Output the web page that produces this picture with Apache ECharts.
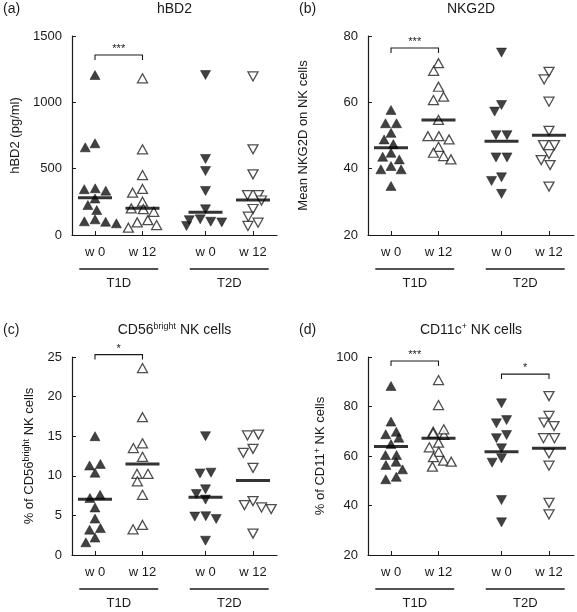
<!DOCTYPE html>
<html><head><meta charset="utf-8">
<script src="https://cdn.jsdelivr.net/npm/echarts@6/dist/echarts.min.js"></script>
<style>html,body{margin:0;padding:0;background:#fff}#c{width:577px;height:612px}</style>
</head><body><div id="c"></div>
<script>
// ---- categories / labels ----
const timeLabels = ['w 0', 'w 12', 'w 0', 'w 12'];
const groupLabels = ['T1D', 'T2D'];

// ---- (a) hBD2 (pg/ml) ----
const hbd2_T1D_w0  = [1206, 691, 661, 345, 334, 352, 275, 226, 188, 100, 88, 103, 118];
const hbd2_T1D_w12 = [1181, 646, 452, 347, 319, 251, 200, 175, 195, 95, 55, 75, 112];
const hbd2_T2D_w0  = [1206, 573, 482, 332, 194, 118, 95, 68, 100, 112];
const hbd2_T2D_w12 = [1195, 646, 457, 301, 301, 260, 196, 138, 93, 68];
const hbd2_median  = [281, 201, 171, 264];

// ---- (b) NKG2D ----
const nkg_T1D_w0  = [57.7, 53.7, 53.7, 50.8, 48.8, 47.4, 44.8, 42.8, 43.6, 39.8, 39.8, 40.8, 34.8];
const nkg_T1D_w12 = [71.8, 69.5, 64.7, 61.7, 60.7, 54.7, 49.8, 48.8, 49.8, 46.6, 44.8, 43.8, 42.8];
const nkg_T2D_w0  = [75, 57.2, 59.2, 50.1, 50.1, 43.4, 43.4, 37.4, 36.3, 32.4];
const nkg_T2D_w12 = [69.2, 66.9, 60.2, 51.4, 47.1, 47.1, 44.4, 42.6, 41.1, 34.6];
const nkg_median  = [46.3, 54.7, 48.3, 50.1];

// ---- (c) CD56bright NK cells (%) ----
const cd56_T1D_w0  = [15.0, 11.5, 11.3, 10.4, 7.6, 7.2, 6.0, 4.6, 3.2, 3.4, 2.2, 1.6];
const cd56_T1D_w12 = [23.6, 17.4, 14.1, 13.5, 12.4, 10.25, 10.25, 9.3, 7.6, 3.25, 3.8];
const cd56_T2D_w0  = [15.0, 10.4, 10.3, 8.3, 7.7, 7.0, 4.85, 4.55, 4.9, 1.8];
const cd56_T2D_w12 = [15.1, 15.2, 13.4, 12.9, 11.0, 6.8, 6.0, 5.8, 6.3, 2.7];
const cd56_median  = [7.05, 11.5, 7.3, 9.4];

// ---- (d) CD11c+ NK cells (%) ----
const cd11_T1D_w0  = [88.3, 73.9, 68.8, 69.8, 67.4, 64.8, 60.4, 60.4, 57.7, 56.4, 54.6, 50.6, 51.6];
const cd11_T1D_w12 = [90.7, 80.6, 69.8, 68.5, 69.2, 70.8, 63.5, 65.4, 61.7, 58.1, 57.7, 59.5, 55.7];
const cd11_T2D_w0  = [81.3, 74.5, 73.2, 67.2, 68.5, 63.1, 57.3, 59.1, 42.2, 33.2];
const cd11_T2D_w12 = [84.2, 76.2, 73.5, 72.1, 67.2, 67.2, 61.1, 56.1, 41.1, 36.4];
const cd11_median  = [63.8, 67.2, 61.7, 63.1];

// ---- y tick ranges ----
const hbd2_ticks = [0, 1500, 500];
const nkg_ticks  = [20, 80, 20];
const cd56_ticks = [0, 25, 5];
const cd11_ticks = [20, 100, 20];

// ---- significance labels ----
const hbd2_sig = [[0, 1, '***']];
const nkg_sig  = [[0, 1, '***']];
const cd56_sig = [[0, 1, '*']];
const cd11_sig = [[0, 1, '***'], [2, 3, '*']];

// ================= layout / styles =================
const FONT = 'Liberation Sans, Arial, Helvetica, sans-serif';
const INK = '#1a1a1a';
const xPos = [23, 70.5, 133.5, 181];
const panels = [
  { letter: '(a)', title: 'hBD2', yname: 'hBD2 (pg/ml)', nameGap: 50,
    vals: [hbd2_T1D_w0, hbd2_T1D_w12, hbd2_T2D_w0, hbd2_T2D_w12], med: hbd2_median, ticks: hbd2_ticks,
    grid: { left: 72, top: 36, width: 205, height: 199 }, sig: hbd2_sig, sigY: [1357] },
  { letter: '(b)', title: 'NKG2D', yname: 'Mean NKG2D on NK cells', nameGap: 58,
    vals: [nkg_T1D_w0, nkg_T1D_w12, nkg_T2D_w0, nkg_T2D_w12], med: nkg_median, ticks: nkg_ticks,
    grid: { left: 368, top: 36, width: 206, height: 199 }, sig: nkg_sig, sigY: [76.4] },
  { letter: '(c)', title: 'CD56{sup|bright} NK cells', yname: '% of CD56{sup|bright} NK cells', nameGap: 35,
    vals: [cd56_T1D_w0, cd56_T1D_w12, cd56_T2D_w0, cd56_T2D_w12], med: cd56_median, ticks: cd56_ticks,
    grid: { left: 72, top: 357, width: 205, height: 198 }, sig: cd56_sig, sigY: [25.3] },
  { letter: '(d)', title: 'CD11c{sup|+} NK cells', yname: '% of CD11{sup|+} NK cells', nameGap: 40,
    vals: [cd11_T1D_w0, cd11_T1D_w12, cd11_T2D_w0, cd11_T2D_w12], med: cd11_median, ticks: cd11_ticks,
    grid: { left: 368, top: 357, width: 206, height: 198 }, sig: cd11_sig, sigY: [98.4, 93.1] }
];

// beeswarm dodge (pixel space, elliptical footprint), deterministic
function swarm(vals, pxPerUnit, DX, DY) {
  const idx = vals.map((v, i) => i).sort((a, b) => vals[b] - vals[a]);
  const placed = []; const off = new Array(vals.length).fill(0);
  const hit = (p, x, y) => ((p.x - x) / DX) ** 2 + ((p.y - y) / DY) ** 2 < 0.999;
  for (const i of idx) {
    const y = vals[i] * pxPerUnit;
    const near = placed.filter(p => Math.abs(p.y - y) < DY);
    const cands = [0];
    near.forEach(p => { const dx = DX * Math.sqrt(1 - ((p.y - y) / DY) ** 2); cands.push(p.x + dx + 0.01, p.x - dx - 0.01); });
    cands.sort((a, b) => Math.abs(a) - Math.abs(b) || a - b);
    let x = 0;
    for (const c of cands) { if (!near.some(p => hit(p, c, y))) { x = c; break; } }
    placed.push({ x, y }); off[i] = x;
  }
  // centre each tight horizontal run about the category position
  const rows = [];
  idx.forEach(i => {
    const y = vals[i] * pxPerUnit;
    let r = rows.find(r => Math.abs(r.y - y) < 3.5);
    if (!r) { r = { y, m: [] }; rows.push(r); }
    r.m.push(i);
  });
  rows.forEach(r => {
    if (r.m.length < 2) return;
    const xs = r.m.map(i => off[i]);
    const c = (Math.min(...xs) + Math.max(...xs)) / 2;
    r.m.forEach(i => { off[i] -= c; });
  });
  return off;
}

const richSup = {
  sup: { fontSize: 9, fontFamily: FONT, color: INK, padding: [0, 0, 6, 0] }
};

const option = { animation: false, backgroundColor: '#fff', grid: [], xAxis: [], yAxis: [], series: [] };
panels.forEach((p, k) => {
  option.grid.push(Object.assign({ containLabel: false }, p.grid));
  option.xAxis.push({
    type: 'value', gridIndex: k, min: 0, max: p.grid.width,
    splitLine: { show: false },
    axisLine: { show: true, lineStyle: { color: INK, width: 1.2 } },
    axisTick: { show: true, inside: true, length: 4, customValues: xPos, lineStyle: { color: INK } },
    axisLabel: { show: true, customValues: xPos, margin: 11, fontSize: 13, fontFamily: FONT, color: INK,
      formatter: v => { let b = 0; xPos.forEach((x, i) => { if (Math.abs(x - v) < Math.abs(xPos[b] - v)) b = i; }); return timeLabels[b]; } }
  });
  option.yAxis.push({
    type: 'value', gridIndex: k, min: p.ticks[0], max: p.ticks[1], interval: p.ticks[2],
    splitLine: { show: false },
    axisLine: { show: true, lineStyle: { color: INK, width: 1.2 } },
    axisTick: { show: true, inside: true, length: 4, lineStyle: { color: INK } },
    axisLabel: { margin: 10, fontSize: 13, fontFamily: FONT, color: INK, formatter: v => String(v) },
    name: p.yname, nameLocation: 'middle', nameGap: p.nameGap,
    nameTextStyle: { fontSize: 13, fontFamily: FONT, color: INK, rich: richSup }
  });
  const ppu = p.grid.height / (p.ticks[1] - p.ticks[0]);
  p.vals.forEach((arr, g) => {
    const off = swarm(arr, ppu, 11, 8.5);
    const filled = (g % 2 === 0);
    option.series.push({
      type: 'scatter', xAxisIndex: k, yAxisIndex: k, z: 3,
      symbol: 'triangle', symbolSize: [10, 9], symbolRotate: g >= 2 ? 180 : 0,
      itemStyle: filled ? { color: '#111', borderColor: '#111', borderWidth: 0.6 }
                        : { color: '#fff', borderColor: '#222', borderWidth: 1.3 },
      emphasis: { disabled: true },
      data: arr.map((v, i) => [xPos[g] + off[i], v])
    });
  });
  option.series.push({
    type: 'scatter', xAxisIndex: k, yAxisIndex: k, z: 4,
    symbol: 'rect', symbolSize: [34, 3], itemStyle: { color: '#000' }, emphasis: { disabled: true },
    data: p.med.map((m, g) => [xPos[g], m])
  });
});

const chart = echarts.init(document.getElementById('c'));
chart.setOption(option);

// annotations placed through the axes
const graphic = [];
const txt = (x, y, text, size, align, rich) => ({
  type: 'text', x, y, silent: true,
  style: { text, fill: INK, font: size + 'px ' + FONT, textAlign: align || 'center', textVerticalAlign: 'middle', rich: rich }
});
panels.forEach((p, k) => {
  const px = (x, y) => chart.convertToPixel({ gridIndex: k }, [x, y]);
  const base = px(0, p.ticks[0]);
  const axisY = base[1];
  const midX = p.grid.left + p.grid.width / 2;
  graphic.push(txt(midX, p.grid.top - 27, p.title, 14, 'center', richSup));
  graphic.push(txt(p.grid.left - 69, p.grid.top - 27, p.letter, 14, 'left'));
  [[0, 1], [2, 3]].forEach((pair, gi) => {
    const a = px(xPos[pair[0]], p.ticks[0])[0], b = px(xPos[pair[1]], p.ticks[0])[0];
    const c = (a + b) / 2;
    graphic.push({ type: 'line', silent: true, shape: { x1: c - 39.5, y1: axisY + 34, x2: c + 39.5, y2: axisY + 34 }, style: { stroke: INK, lineWidth: 1.3 } });
    graphic.push(txt(c, axisY + 48, groupLabels[gi], 13));
  });
  p.sig.forEach((s, si) => {
    const a = px(xPos[s[0]], p.sigY[si]), b = px(xPos[s[1]], p.sigY[si]);
    const y = a[1];
    graphic.push({ type: 'polyline', silent: true, shape: { points: [[a[0], y + 5], [a[0], y], [b[0], y], [b[0], y + 5]] }, style: { stroke: INK, lineWidth: 1.1, fill: null } });
    graphic.push(txt((a[0] + b[0]) / 2, y - 6, s[2], 11));
  });
});
chart.setOption({ graphic: graphic });
</script></body></html>
